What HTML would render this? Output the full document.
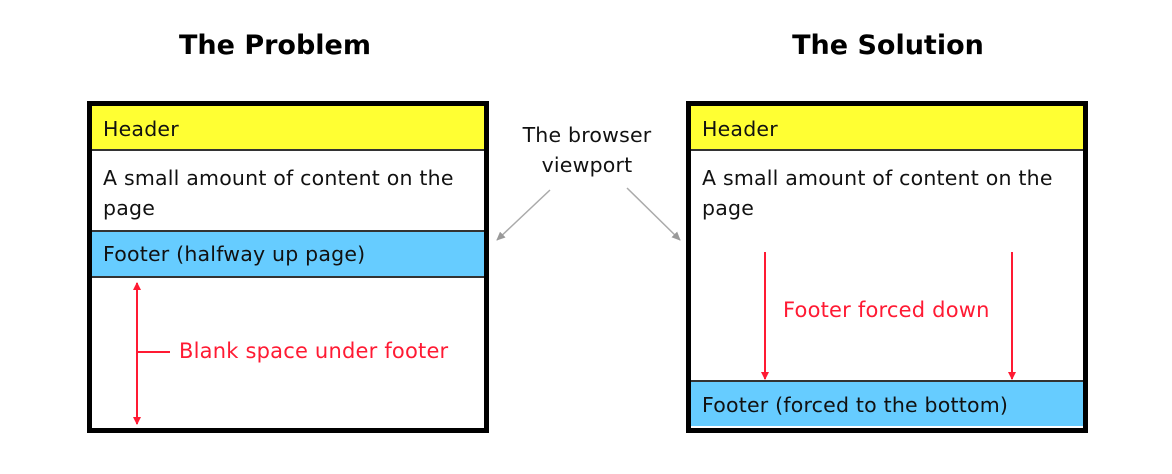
<!DOCTYPE html>
<html><head><style>
body{margin:0;background:#fff;width:1172px;height:474px;overflow:hidden;position:relative;font-family:"DejaVu Sans","Liberation Sans",sans-serif}
.t{position:absolute;font-size:20.5px;color:#111;white-space:nowrap;letter-spacing:0.2px}
.box{position:absolute;top:101px;width:392px;height:322px;border:5px solid #000;background:#fff}
.hd{position:absolute;left:0;right:0;background:#ffff33;border-bottom:2px solid #333}
.ft{position:absolute;left:0;right:0;background:#66ccff;border-top:2px solid #333;border-bottom:2px solid #333}
.r{position:absolute;color:#ff1a33;font-size:21px;white-space:nowrap;letter-spacing:0.2px}
</style></head><body>
<div style="position:absolute;left:125px;top:30px;font-size:27px;font-weight:bold;width:300px;text-align:center">The Problem</div>
<div style="position:absolute;left:738px;top:30px;font-size:27px;font-weight:bold;width:300px;text-align:center">The Solution</div>

<div class="box" style="left:87px">
 <div class="hd" style="top:0;height:43px"></div>
 <div class="t" style="left:11px;top:11px">Header</div>
 <div class="t" style="left:11px;top:57px;line-height:30px">A small amount of content on the<br>page</div>
 <div class="ft" style="top:124px;height:44px"></div>
 <div class="t" style="left:11px;top:136px">Footer (halfway up page)</div>
</div>

<div class="box" style="left:686px">
 <div class="hd" style="top:0;height:43px"></div>
 <div class="t" style="left:11px;top:11px">Header</div>
 <div class="t" style="left:11px;top:57px;line-height:30px">A small amount of content on the<br>page</div>
 <div class="ft" style="top:274px;height:44px;border-bottom:none"></div>
 <div class="t" style="left:11px;top:287px">Footer (forced to the bottom)</div>
</div>

<div class="t" style="left:500px;top:120px;width:174px;text-align:center;line-height:30px">The browser<br>viewport</div>
<div class="r" style="left:179px;top:339px">Blank space under footer</div>
<div class="r" style="left:783px;top:298px">Footer forced down</div>

<svg width="1172" height="474" style="position:absolute;left:0;top:0">
<defs>
<marker id="ra" markerWidth="8" markerHeight="8" refX="7" refY="4" orient="auto" markerUnits="userSpaceOnUse"><path d="M0,0L8,4L0,8z" fill="#ff1a33"/></marker>
<marker id="ga" markerWidth="9" markerHeight="8" refX="8" refY="4" orient="auto" markerUnits="userSpaceOnUse"><path d="M0,0L9,4L0,8z" fill="#999"/></marker>
</defs>
<g stroke="#ff1a33" stroke-width="2">
<line x1="137" y1="290" x2="137" y2="283" marker-end="url(#ra)"/>
<line x1="137" y1="290" x2="137" y2="418"/>
<line x1="137" y1="410" x2="137" y2="424" marker-end="url(#ra)"/>
<line x1="137" y1="352" x2="170" y2="352"/>
<line x1="765" y1="252" x2="765" y2="379" marker-end="url(#ra)"/>
<line x1="1012" y1="252" x2="1012" y2="379" marker-end="url(#ra)"/>
</g>
<g stroke="#aaa" stroke-width="1.5">
<line x1="550" y1="190" x2="497" y2="240" marker-end="url(#ga)"/>
<line x1="627" y1="188" x2="680" y2="240" marker-end="url(#ga)"/>
</g>
</svg>
</body></html>
